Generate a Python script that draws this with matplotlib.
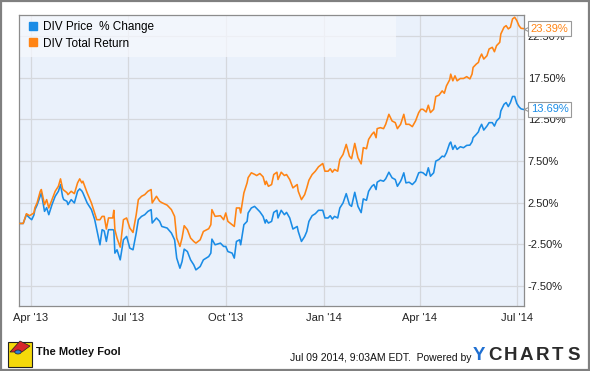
import matplotlib
matplotlib.use("Agg")
import matplotlib.pyplot as plt
import matplotlib.dates as mdates
import matplotlib.transforms as mtransforms
from matplotlib.patches import Rectangle, Polygon, Circle
from matplotlib.lines import Line2D
import pandas as pd

plt.rcParams['font.family'] = ['Liberation Sans', 'DejaVu Sans']

# Data (days after START, values in %)
START = '2013-03-22'
DAYS = [0, 3, 6, 9, 11, 13, 14, 16, 19, 20,
        23, 25, 27, 30, 33, 36, 38, 40, 41, 44,
        45, 48, 51, 54, 56, 58, 59, 63, 67, 70,
        72, 75, 77, 79, 81, 83, 87, 88, 89, 91,
        94, 97, 100, 103, 106, 109, 111, 114, 117, 120,
        123, 124, 128, 131, 133, 138, 142, 145, 147, 150,
        152, 154, 157, 160, 163, 165, 169, 172, 177, 179,
        180, 183, 188, 191, 193, 195, 199, 201, 203, 206,
        207, 210, 213, 214, 217, 220, 222, 225, 228, 230,
        231, 233, 236, 238, 241, 242, 245, 248, 250, 253,
        256, 260, 261, 264, 267, 269, 271, 274, 277, 280,
        284, 286, 289, 291, 293, 295, 298, 300, 303, 306,
        309, 311, 314, 317, 320, 322, 325, 327, 330, 332,
        334, 335, 338, 341, 343, 346, 349, 352, 354, 357,
        358, 360, 362, 365, 368, 371, 374, 376, 378, 381,
        383, 385, 388, 390, 393, 396, 398, 400, 403, 404,
        406, 408, 410, 413, 416, 419, 422, 424, 425, 428,
        430, 431, 433, 435, 438, 440, 443, 445, 447, 450,
        451, 454, 456, 458, 460, 462, 464, 466, 468, 470,
        472]

total_return = [0.0, 0.0, 1.17, 0.93, 1.1, 1.26, 1.9, 2.46, 3.86, 4.07,
                2.26, 2.86, 1.86, 2.86, 3.86, 4.46, 5.35, 4.15, 4.0, 3.7,
                3.46, 3.86, 3.58, 4.87, 5.35, 4.87, 5.07, 3.67, 2.46, 1.26,
                0.45, 0.45, 0.85, 0.85, -0.67, 0.66, 0.66, 1.58, -0.75, -1.75,
                -2.84, 0.45, 0.66, -0.55, -1.08, 1.05, 2.86, 3.26, 3.46, 3.86,
                4.07, 2.46, 3.26, 2.66, 2.5, 2.2, 1.66, 0.85, -1.75, -2.76,
                -1.75, -0.27, -0.75, -1.75, -2.16, -2.36, -1.96, -0.96, -0.63, -0.15,
                1.66, 0.85, 0.93, 0.45, 1.26, 0.25, -0.15, -0.36, 1.86, 1.86,
                1.26, 3.67, 4.87, 5.5, 6.08, 5.9, 5.75, 5.99, 5.60, 4.67,
                5.07, 4.46, 4.67, 5.87, 6.15, 5.27, 6.15, 5.75, 5.87, 5.27,
                4.27, 4.67, 3.86, 2.86, 3.46, 4.27, 5.19, 5.87, 6.27, 6.80,
                7.20, 6.27, 6.27, 6.56, 6.15, 6.48, 6.27, 7.68, 8.28, 9.49,
                8.08, 7.77, 9.61, 7.89, 7.15, 9.1, 8.97, 10.09, 10.69, 10.97,
                10.29, 11.38, 11.50, 11.38, 11.90, 13.10, 12.30, 12.10, 11.38, 11.90,
                12.30, 13.10, 11.90, 11.90, 11.62, 12.30, 13.31, 13.70, 13.70, 13.38,
                14.19, 13.31, 13.70, 15.24, 15.39, 15.91, 15.63, 16.51, 17.24, 17.92,
                17.12, 17.72, 17.12, 17.40, 17.40, 17.62, 17.35, 17.92, 18.73, 19.13,
                19.33, 19.81, 20.33, 19.73, 20.13, 20.94, 21.14, 20.61, 21.34, 21.74,
                22.74, 23.55, 23.74, 23.35, 23.55, 24.55, 24.75, 24.35, 23.74, 23.42,
                23.39]

price_change = [0.0, 0.0, 1.05, 0.66, 0.45, 1.0, 1.66, 2.2, 3.3, 3.67,
                1.45, 1.9, 1.05, 2.26, 3.26, 3.86, 4.67, 3.2, 2.86, 2.66,
                2.26, 2.86, 2.46, 3.86, 4.15, 3.9, 3.67, 2.46, 1.66, 0.5,
                -0.75, -2.56, -0.75, -0.9, -2.16, -0.75, -0.75, -0.8, -3.56, -3.16,
                -4.37, -1.96, -1.56, -2.96, -3.16, -1.15, 0.45, 0.85, 1.05, 1.45,
                1.66, 0.05, 0.66, 0.25, -0.36, -0.55, -1.15, -1.96, -4.16, -5.37,
                -4.57, -3.08, -3.37, -4.37, -4.97, -5.57, -5.17, -4.37, -3.97, -3.56,
                -1.88, -2.56, -2.36, -2.76, -2.76, -3.37, -3.56, -4.16, -2.16, -1.96,
                -2.56, -0.15, 0.25, 1.26, 1.86, 2.05, 1.8, 1.4, 0.85, 0.05,
                0.45, 0.05, 0.25, 1.33, 1.58, 0.66, 1.58, 1.05, 1.33, 0.66,
                -0.67, -0.36, -0.96, -2.16, -1.56, -0.96, 0.25, 0.93, 1.17, 1.58,
                1.58, 0.66, 0.66, 0.93, 0.53, 0.85, 0.66, 1.86, 2.46, 3.58,
                2.26, 2.05, 3.74, 2.05, 1.3, 2.95, 2.78, 3.86, 4.46, 4.67,
                4.07, 4.95, 5.19, 5.07, 5.36, 6.15, 5.48, 5.27, 4.46, 5.07,
                5.36, 6.08, 4.87, 4.95, 4.67, 5.07, 6.08, 6.15, 6.08, 5.75,
                6.68, 5.67, 6.08, 7.48, 7.68, 8.08, 8.00, 8.49, 9.61, 9.77,
                8.89, 9.37, 8.89, 9.21, 9.09, 9.37, 9.4, 9.8, 10.29, 10.69,
                11.0, 11.4, 11.90, 11.21, 11.69, 12.10, 12.10, 11.69, 12.30, 12.70,
                13.5, 14.3, 14.51, 14.03, 14.51, 15.24, 15.24, 14.4, 14.0, 13.75,
                13.69]

series_names = ['DIV Price  % Change', 'DIV Total Return']
y_ticks = [-7.5, -2.5, 2.5, 7.5, 12.5, 17.5, 22.5]
x_ticks = ['2013-04-01', '2013-07-01', '2013-10-01', '2014-01-01', '2014-04-01', '2014-07-01']

BLUE = '#1a8ce6'
ORANGE = '#ff8414'
GRID = '#d5d8dd'
FRAME = '#8c8c8c'

start = pd.Timestamp(START)
dates = start + pd.to_timedelta(DAYS, unit='D')

fig = plt.figure(figsize=(5.9, 3.71), dpi=100)
ax = fig.add_axes([0.033, 0.174, 0.8556, 0.7856])
ax.set_facecolor('#eaf1fb')

ax.plot(dates, price_change, color=BLUE, lw=1.15, zorder=3)
ax.plot(dates, total_return, color=ORANGE, lw=1.15, zorder=3)

ax.set_xlim(start - pd.Timedelta(days=0.5), start + pd.Timedelta(days=473))
ax.set_ylim(-9.96, 25.02)

ax.set_xticks(pd.to_datetime(x_ticks))
ax.xaxis.set_major_formatter(mdates.DateFormatter("%b '%y"))
ax.set_yticks(y_ticks)
ax.set_yticklabels([f'{v:.2f}%' for v in y_ticks])
ax.yaxis.tick_right()
ax.tick_params(axis='y', length=0, pad=2.6, labelsize=8, labelcolor='#222222')
ax.tick_params(axis='x', length=0, pad=5, labelsize=8, labelcolor='#222222')
ax.grid(True, color=GRID, lw=0.9, zorder=1)
ax.set_axisbelow(True)
for s in ax.spines.values():
    s.set_color(FRAME)
    s.set_linewidth(0.9)

# legend panel
ax.add_patch(Rectangle((0, 0.856), 0.746, 0.144, transform=ax.transAxes,
                       facecolor='#f6f8fd', alpha=0.75, edgecolor='none', zorder=2))
handles = [Line2D([], [], marker='s', ls='none', ms=5.5, color=c) for c in (BLUE, ORANGE)]
ax.legend(handles, series_names, loc='upper left', bbox_to_anchor=(0.005, 1.0),
          frameon=False, fontsize=8.5, handlelength=0.8, handletextpad=0.45,
          labelspacing=0.35, borderaxespad=0.35, borderpad=0.2)

# end-value flags
blend = mtransforms.blended_transform_factory(ax.transAxes, ax.transData)
for vals, col in ((total_return, ORANGE), (price_change, BLUE)):
    v = vals[-1]
    ax.plot([1.0 + 3.5 / 505], [v], marker='<', ms=6, mfc='white', mec='#999999',
            mew=0.8, transform=blend, clip_on=False, zorder=4)
    ax.annotate(f'{v:.2f}%', xy=(1.0, v), xycoords=blend, xytext=(4.6, 0),
                textcoords='offset points', ha='left', va='center', fontsize=8,
                color=col, annotation_clip=False, zorder=5,
                bbox=dict(boxstyle='square,pad=0.22', fc='white', ec='#999999', lw=0.8))

# outer border
fig.patches.append(Rectangle((0.001, 0.002), 0.997, 0.996, transform=fig.transFigure,
                             fill=False, edgecolor='#808080', lw=1.6))

# footer: Motley Fool mark
fig.patches.append(Rectangle((8 / 590, 1 - 367 / 371), 24 / 590, 25 / 371,
                             transform=fig.transFigure, facecolor='#f5d90a',
                             edgecolor='#222222', lw=0.8))
fig.patches.append(Polygon([(10 / 590, 1 - 352 / 371), (20 / 590, 1 - 341 / 371),
                            (30 / 590, 1 - 346 / 371), (22 / 590, 1 - 352 / 371)],
                           closed=True, transform=fig.transFigure,
                           facecolor='#d8262b', edgecolor='#222222', lw=0.5))
fig.patches.append(Circle((18 / 590, 1 - 352 / 371), 3.2 / 590, transform=fig.transFigure,
                          facecolor='#2a7fd4', edgecolor='#222222', lw=0.5))
fig.text(35.5 / 590, 1 - 352 / 371, 'The Motley Fool', fontsize=8, fontweight='bold',
         ha='left', va='center', color='#111111')

fig.text(290 / 590, 1 - 358 / 371, 'Jul 09 2014, 9:03AM EDT.  Powered by', fontsize=7.5,
         ha='left', va='center', color='#111111')
logo_letters = ['Y', 'C', 'H', 'A', 'R', 'T', 'S']
for i, ch in enumerate(logo_letters):
    fig.text((479 + i * 15.8) / 590, 1 - 356 / 371, ch, fontsize=13.5, fontweight='bold',
             ha='center', va='center', color='#1f6fd1' if ch == 'Y' else '#2b2b2b')

fig.savefig('out.png', dpi=100)
